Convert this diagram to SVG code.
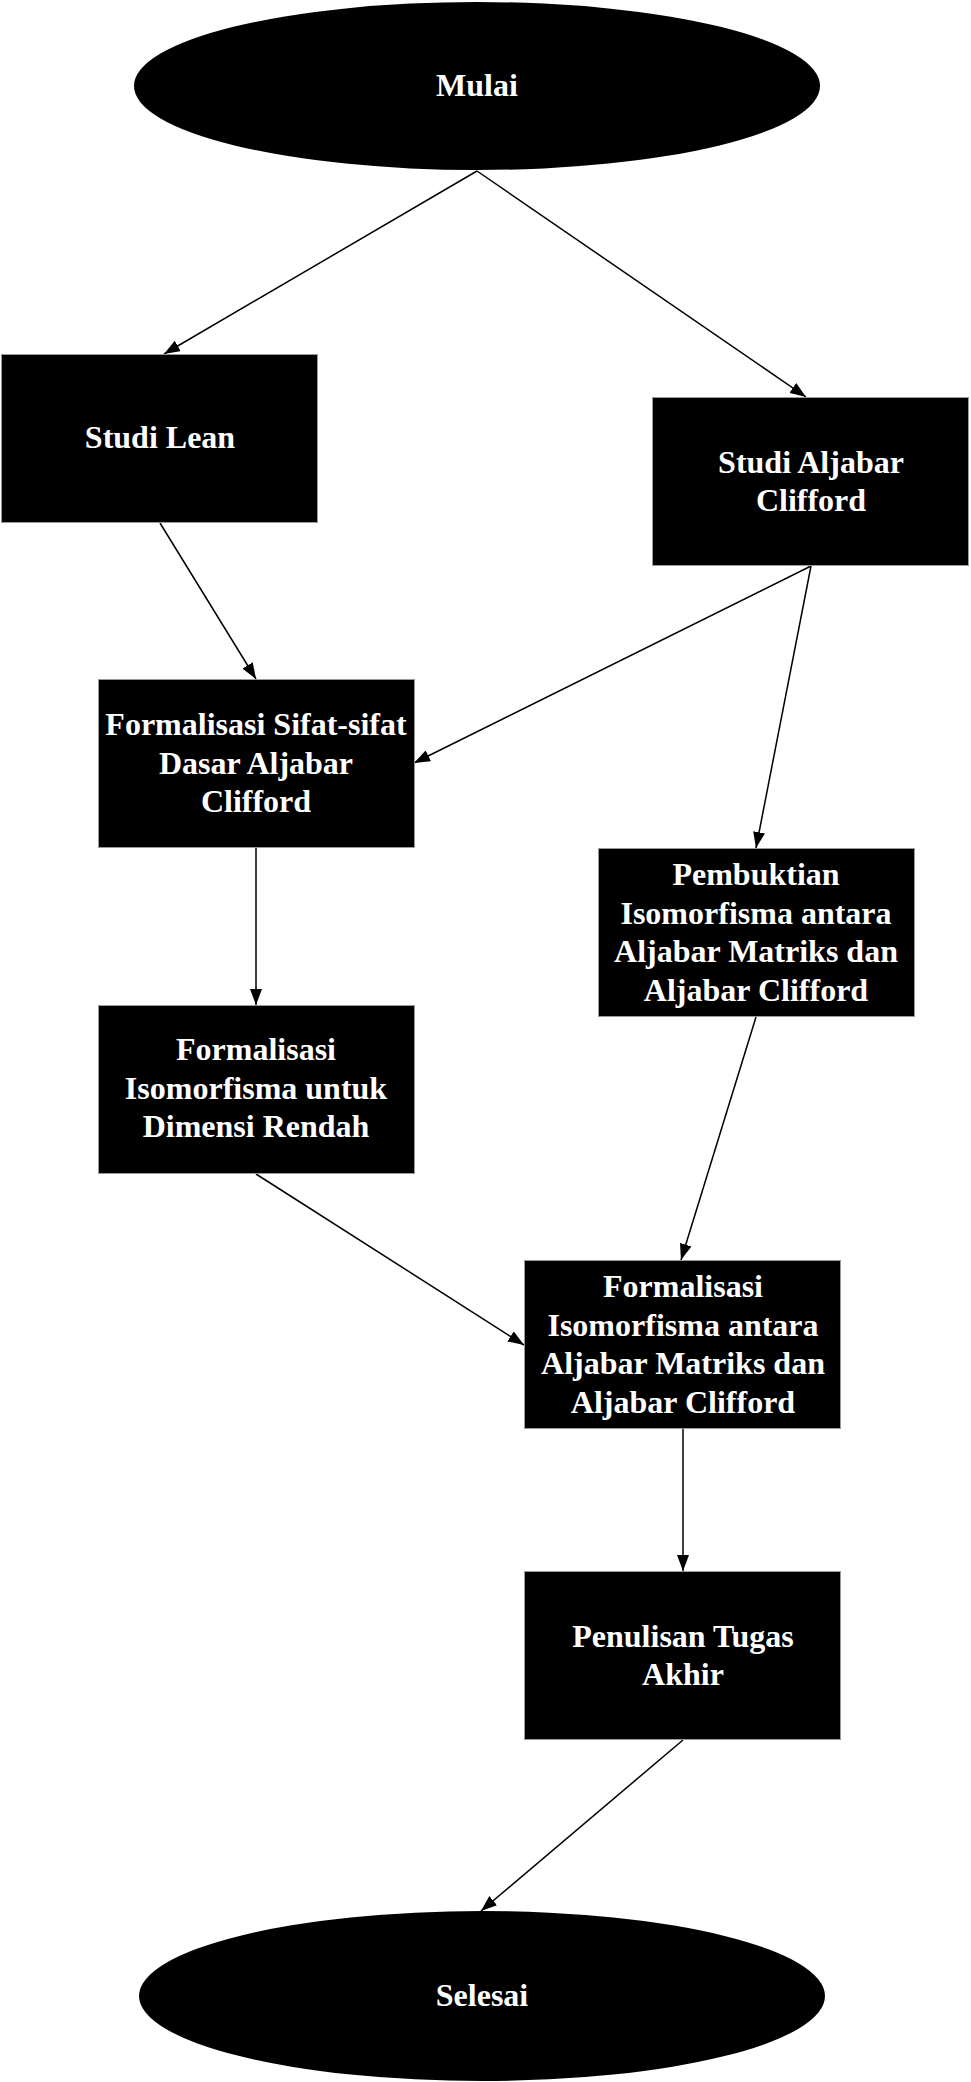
<svg xmlns="http://www.w3.org/2000/svg" width="971" height="2082" viewBox="0 0 971 2082">
<style>
.n{fill:#000;stroke:#9a9a9a;stroke-width:1}
.t{fill:#fff;font-family:"Liberation Serif","Times New Roman",serif;font-weight:bold;font-size:32px;text-anchor:middle}
.c{stroke:#000;stroke-width:1.5;fill:none;marker-end:url(#ah)}
</style>
<defs>
<marker id="ah" markerUnits="userSpaceOnUse" markerWidth="16" markerHeight="12" viewBox="0 0 16 12" refX="16" refY="6" orient="auto">
<path d="M0,0 L16,6 L0,12 Z" fill="#000"/>
</marker>
</defs>
<rect width="971" height="2082" fill="#fff"/>
<g id="connectors">
<line class="c" x1="477" y1="171" x2="164" y2="354"/>
<line class="c" x1="477" y1="171" x2="806" y2="397"/>
<line class="c" x1="160" y1="523" x2="256" y2="679"/>
<line class="c" x1="811" y1="566" x2="414" y2="763"/>
<line class="c" x1="811" y1="566" x2="756" y2="848"/>
<line class="c" x1="256" y1="848" x2="256" y2="1005"/>
<line class="c" x1="256" y1="1174" x2="524" y2="1345"/>
<line class="c" x1="756" y1="1017" x2="681" y2="1260"/>
<line class="c" x1="683" y1="1429" x2="683" y2="1571"/>
<line class="c" x1="683" y1="1740" x2="481" y2="1911"/>
</g>
<g id="mulai">
<ellipse cx="477" cy="86" rx="343" ry="84" fill="#000"/>
<text class="t" x="477" y="96">Mulai</text>
</g>
<g id="studi-lean">
<rect class="n" x="1.5" y="354.5" width="316" height="168"/>
<text class="t" x="160" y="448">Studi Lean</text>
</g>
<g id="studi-aljabar">
<rect class="n" x="652.5" y="397.5" width="316" height="168"/>
<text class="t" x="811" y="472.5">Studi Aljabar</text>
<text class="t" x="811" y="511">Clifford</text>
</g>
<g id="formalisasi-sifat">
<rect class="n" x="98.5" y="679.5" width="316" height="168"/>
<text class="t" x="256" y="735">Formalisasi Sifat-sifat</text>
<text class="t" x="256" y="773.5">Dasar Aljabar</text>
<text class="t" x="256" y="812">Clifford</text>
</g>
<g id="pembuktian">
<rect class="n" x="598.5" y="848.5" width="316" height="168"/>
<text class="t" x="756" y="885">Pembuktian</text>
<text class="t" x="756" y="923.5">Isomorfisma antara</text>
<text class="t" x="756" y="962">Aljabar Matriks dan</text>
<text class="t" x="756" y="1000.5">Aljabar Clifford</text>
</g>
<g id="formalisasi-dimensi">
<rect class="n" x="98.5" y="1005.5" width="316" height="168"/>
<text class="t" x="256" y="1060">Formalisasi</text>
<text class="t" x="256" y="1098.5">Isomorfisma untuk</text>
<text class="t" x="256" y="1137">Dimensi Rendah</text>
</g>
<g id="formalisasi-antara">
<rect class="n" x="524.5" y="1260.5" width="316" height="168"/>
<text class="t" x="683" y="1297">Formalisasi</text>
<text class="t" x="683" y="1335.5">Isomorfisma antara</text>
<text class="t" x="683" y="1374">Aljabar Matriks dan</text>
<text class="t" x="683" y="1412.5">Aljabar Clifford</text>
</g>
<g id="penulisan">
<rect class="n" x="524.5" y="1571.5" width="316" height="168"/>
<text class="t" x="683" y="1646.5">Penulisan Tugas</text>
<text class="t" x="683" y="1685">Akhir</text>
</g>
<g id="selesai">
<ellipse cx="482" cy="1996" rx="343" ry="85" fill="#000"/>
<text class="t" x="482" y="2006">Selesai</text>
</g>
</svg>
